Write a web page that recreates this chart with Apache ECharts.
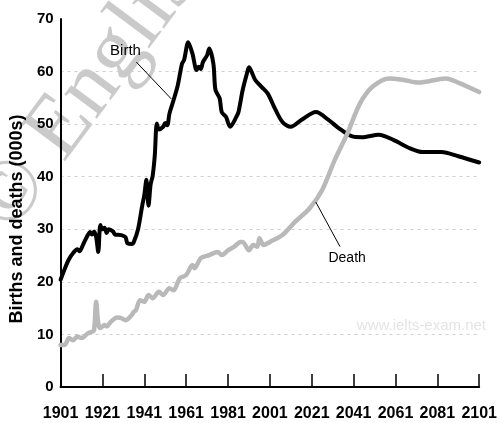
<!DOCTYPE html>
<html>
<head>
<meta charset="utf-8">
<script src="https://cdn.jsdelivr.net/npm/echarts@6/dist/echarts.min.js"></script>
<style>
html,body{margin:0;padding:0;background:#fff;}
#chart{width:500px;height:423px;}
</style>
</head>
<body>
<div id="chart"></div>
<script>
// ---- data ----
const startYear = 1901;
const xTickLabels = ['1901','1921','1941','1961','1981','2001','2021','2041','2061','2081','2101'];
const yTickLabels = ['0','10','20','30','40','50','60','70'];

const birthYears = [1901,1903,1905,1907,1909,1910,1912,1914,1915,1916,1917,1918,1919,1920,1921,1922,1923,1924,1926,1927,1930,1932,1933,1935,1936,1938,1940,1941,1942,1943,1944,1945,1946,1947,1948,1950,1951,1952,1953,1955,1957,1959,1960,1962,1964,1966,1967,1968,1969,1971,1972,1974,1975,1977,1978,1980,1982,1985,1986,1988,1990,1991,1992,1994,1997,2000,2003,2007,2011,2016,2023,2029,2034,2040,2045,2053,2060,2068,2074,2083,2091,2101];
const birthValues = [20.4,22.5,24.3,25.5,26.2,25.8,27.3,28.9,29.5,29.0,29.6,28.5,25.7,30.8,30.0,30.3,29.3,30.0,29.6,29.0,28.9,28.5,27.3,27.2,27.6,30.0,34.5,36.5,39.4,34.5,38.5,40.2,44.0,50.1,49.0,49.5,50.2,49.8,52.0,54.6,57.4,61.5,62.2,65.6,63.4,60.3,60.9,60.5,61.8,63.1,64.4,61.5,56.5,54.9,52.3,51.4,49.5,51.4,52.3,56.5,59.6,60.8,60.2,58.4,57.1,55.8,53.3,50.4,49.5,50.8,52.3,50.8,49.2,47.7,47.5,48.0,47.0,45.4,44.7,44.7,43.9,42.7];

const deathYears = [1901,1903,1905,1907,1909,1911,1914,1916,1917,1918,1919,1920,1922,1923,1925,1928,1930,1932,1935,1936,1937,1939,1941,1943,1945,1948,1950,1953,1955,1958,1961,1964,1965,1968,1972,1976,1978,1981,1984,1987,1988,1991,1993,1995,1996,1998,2001,2007,2013,2020,2026,2032,2038,2044,2050,2058,2065,2072,2085,2091,2101];
const deathValues = [8.0,8.0,9.3,8.9,9.6,9.3,10.2,10.5,10.8,16.2,12.1,11.2,11.8,11.5,12.4,13.2,13.1,12.7,13.7,14.3,14.6,16.5,16.2,17.5,16.9,18.1,17.5,18.8,18.4,20.7,21.3,23.2,22.6,24.5,25.1,25.7,25.1,26.0,26.7,27.6,27.6,26.0,27.0,26.7,28.3,27.0,27.6,28.9,31.4,34.0,37.5,43.2,48.2,53.9,57.1,58.7,58.4,57.9,58.7,57.9,56.1];

// annotation anchors (year, value)
const birthLabel = {text:'Birth', at:[1932, 63.9], leader:[[1937.2, 61.8],[1953.9, 54.8]]};
const deathLabel = {text:'Death', at:[2037.9, 24.5], leader:[[2022.9, 35.2],[2034.5, 26.7]]};

// ---- build ----
const toXY = (ys, vs) => ys.map((y, i) => [y - startYear, vs[i]]);
const off = p => [p[0] - startYear, p[1]];
const FONT = "'Liberation Sans Narrow','Arial Narrow','Liberation Sans',Arial,sans-serif";
const gridColor = '#cfcfcf';

const chart = echarts.init(document.getElementById('chart'), null, {renderer:'canvas'});
chart.setOption({
  animation:false,
  backgroundColor:'#fff',
  grid:{left:54, right:15, top:19, bottom:36, containLabel:false},
  xAxis:{
    type:'value', min:0, max:200, interval:20,
    axisLine:{show:true, lineStyle:{color:'#000', width:2}},
    axisTick:{show:true, inside:true, length:13, lineStyle:{color:'#000', width:1.5}},
    axisLabel:{show:true, margin:19, color:'#000', fontWeight:'bold', fontSize:16, fontFamily:FONT,
      formatter:(v)=> xTickLabels[Math.round(v/20)] },
    splitLine:{show:false}
  },
  yAxis:{
    type:'value', min:0, max:70, interval:10,
    name:'Births and deaths (000s)', nameLocation:'middle', nameGap:30,
    nameTextStyle:{color:'#000', fontWeight:'bold', fontSize:18, fontFamily:"'Liberation Sans',Arial,sans-serif", padding:[0,32,0,0]},
    axisLine:{show:true, lineStyle:{color:'#000', width:2}},
    axisTick:{show:false},
    axisLabel:{show:true, margin:7, color:'#000', fontWeight:'bold', fontSize:15, fontFamily:FONT,
      formatter:(v)=> yTickLabels[Math.round(v/10)] },
    splitLine:{show:true, lineStyle:{type:[3,4], width:1.2,
      color:['rgba(0,0,0,0)',gridColor,gridColor,gridColor,gridColor,gridColor,gridColor,'rgba(0,0,0,0)']}}
  },
  graphic:[
    {type:'text', z:-1, x:27, y:247, rotation:0.93,
      style:{text:'© English', font:"88px 'Liberation Serif', 'Times New Roman', serif", fill:'rgba(150,150,150,0.5)', textVerticalAlign:'bottom'}},
    {type:'text', z:-1, right:14, top:318,
      style:{text:'www.ielts-exam.net', font:"15px 'Liberation Sans', Arial, sans-serif", fill:'#e4e4e4'}}
  ],
  series:[
    {
      name:'Birth', type:'line', data:toXY(birthYears, birthValues),
      showSymbol:false, smooth:0.3, z:3,
      lineStyle:{color:'#000', width:4, cap:'round', join:'round'},
      markLine:{silent:true, symbol:['none','none'], animation:false,
        label:{show:false}, lineStyle:{color:'#000', width:1, type:'solid'},
        data:[[{coord:off(birthLabel.leader[0])},{coord:off(birthLabel.leader[1])}]]},
      markPoint:{silent:true, symbol:'circle', symbolSize:0,
        label:{show:true, position:'inside', color:'#000', fontSize:15, fontFamily:"'Liberation Sans',Arial,sans-serif", formatter:birthLabel.text},
        data:[{coord:off(birthLabel.at)}]}
    },
    {
      name:'Death', type:'line', data:toXY(deathYears, deathValues),
      showSymbol:false, smooth:0.3, z:4,
      lineStyle:{color:'#b9b9b9', width:4.5, cap:'round', join:'round'},
      markLine:{silent:true, symbol:['none','none'], animation:false,
        label:{show:false}, lineStyle:{color:'#000', width:1, type:'solid'},
        data:[[{coord:off(deathLabel.leader[0])},{coord:off(deathLabel.leader[1])}]]},
      markPoint:{silent:true, symbol:'circle', symbolSize:0,
        label:{show:true, position:'inside', color:'#000', fontSize:14, fontFamily:"'Liberation Sans',Arial,sans-serif", formatter:deathLabel.text},
        data:[{coord:off(deathLabel.at)}]}
    }
  ]
});
</script>
</body>
</html>
